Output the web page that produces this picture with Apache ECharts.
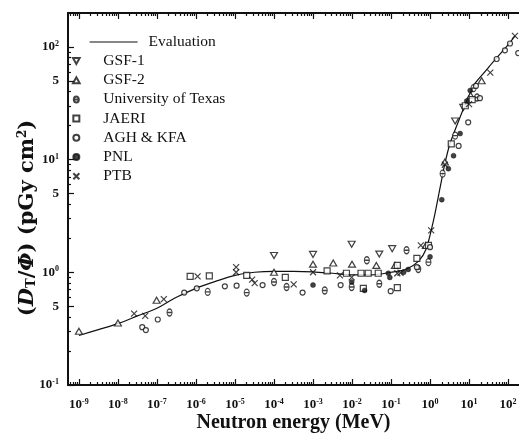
<!DOCTYPE html>
<html>
<head>
<meta charset="utf-8">
<script src="https://cdn.jsdelivr.net/npm/echarts@6/dist/echarts.min.js"></script>
<style>
  html, body { margin: 0; padding: 0; background: #fff; }
  #chart { width: 519px; height: 433px; }
</style>
</head>
<body>
<div id="chart"></div>
<script>
// Tick labels: energy decades (MeV) and dose-conversion ticks (pGy cm^2)
const energyDecades = [-9, -8, -7, -6, -5, -4, -3, -2, -1, 0, 1, 2];
const doseLabelTicks = [0.1, 0.5, 1, 5, 10, 50, 100];

// Evaluated kerma coefficient curve
const evalEnergy = [1e-9, 3.16e-9, 1e-8, 3.16e-8, 1e-7, 3.16e-7, 1e-6, 3.16e-6, 1e-5, 3.16e-5, 1e-4, 3.16e-4, 1e-3, 3.16e-3, 1e-2, 3.16e-2, 0.1, 0.25, 0.5, 0.79, 1.23, 1.82, 2.4, 3.24, 5.4, 8.7, 14.1, 23.4, 38, 62, 102, 151];
const evalDose   = [0.275, 0.31, 0.35, 0.41, 0.48, 0.60, 0.72, 0.83, 0.94, 1.0, 1.02, 1.02, 1.01, 0.98, 0.95, 0.95, 1.0, 1.07, 1.25, 1.6, 2.9, 5.7, 9.2, 13.8, 22, 33, 47, 58, 71, 86, 105, 125];

// Measurements
const gsf1Energy = [1e-4, 1e-3, 9.8e-3, 5e-2, 0.107, 4.4, 7.1];
const gsf1Dose   = [1.41, 1.44, 1.77, 1.45, 1.62, 22, 29];

const gsf2Energy = [1e-9, 1e-8, 9.8e-8, 1e-4, 1e-3, 3.3e-3, 1e-2, 4.2e-2, 0.126, 0.78, 2.4, 11, 21];
const gsf2Dose   = [0.30, 0.355, 0.565, 1.0, 1.18, 1.21, 1.18, 1.15, 1.15, 1.73, 9.5, 37, 50];

const texasEnergy = [2.1e-7, 2.0e-6, 2.0e-5, 1e-4, 2.1e-4, 2.0e-3, 9.8e-3, 2.4e-2, 5e-2, 0.25, 0.5, 0.91, 2.1, 4.4, 13, 16];
const texasDose   = [0.44, 0.67, 0.66, 0.82, 0.74, 0.69, 0.74, 1.28, 0.79, 1.57, 1.07, 1.23, 7.5, 16.3, 43, 35.5];

const jaeriEnergy = [7.1e-7, 2.2e-6, 2.0e-5, 1.95e-4, 2.3e-3, 7.2e-3, 1.7e-2, 1.95e-2, 2.6e-2, 4.7e-2, 0.145, 0.145, 0.46, 0.91, 3.5, 8, 12];
const jaeriDose   = [0.92, 0.93, 0.94, 0.90, 1.03, 0.98, 0.98, 0.72, 0.98, 0.98, 0.73, 1.15, 1.33, 1.73, 13.8, 30, 34];

const aghEnergy = [4.2e-8, 5.2e-8, 1.05e-7, 5e-7, 1.05e-6, 5.5e-6, 1.1e-5, 5.1e-5, 5.4e-4, 5.1e-3, 9.8e-2, 0.46, 1.0, 5.4, 9.5, 15, 19, 51, 83, 112, 182];
const aghDose   = [0.326, 0.307, 0.381, 0.66, 0.72, 0.75, 0.76, 0.77, 0.66, 0.77, 0.68, 1.11, 1.67, 13.2, 21.4, 45, 35, 78, 93, 107, 88];

const pnlEnergy = [1e-3, 9.8e-3, 2.1e-2, 8.5e-2, 9.3e-2, 0.21, 0.275, 1.0, 2.0, 2.95, 4.0, 5.9, 8.7, 10.7];
const pnlDose   = [0.77, 0.82, 0.69, 0.98, 0.90, 1.0, 1.06, 1.37, 4.4, 8.3, 10.8, 17, 33, 41];

const ptbEnergy = [2.6e-8, 5e-8, 1.5e-7, 1.1e-6, 1.07e-5, 1.07e-5, 2.75e-5, 3.2e-5, 3.2e-4, 1e-3, 4.9e-3, 9.8e-3, 0.145, 0.175, 0.58, 1.07, 2.4, 10, 35, 150];
const ptbDose   = [0.43, 0.41, 0.577, 0.92, 1.11, 1.0, 0.86, 0.80, 0.78, 1.0, 0.94, 0.90, 0.98, 0.99, 1.73, 2.35, 9.0, 31, 59, 125];

const zip = (xs, ys) => xs.map((x, i) => [x, ys[i]]);

const X_MIN = Math.pow(10, -9.28), X_MAX = Math.pow(10, 2.28);
const Y_MIN = 0.1, Y_MAX = Math.pow(10, 2.3);

const SERIF = 'Liberation Serif';
const WIDE_SERIF = 'DejaVu Serif';
const INK = '#111';

// Axis tick positions
const majorX = energyDecades.map(e => Math.pow(10, e));
const minorX = [];
for (let e = -10; e <= 2; e++) for (let k = 2; k <= 9; k++) {
  const v = k * Math.pow(10, e);
  if (v > X_MIN && v < X_MAX) minorX.push(v);
}
const majorY = doseLabelTicks.slice();
const minorY = [];
for (let e = -1; e <= 2; e++) for (let k = 2; k <= 9; k++) {
  if (k === 5) continue;
  const v = k * Math.pow(10, e);
  if (v > Y_MIN && v < Y_MAX) minorY.push(v);
}

const labelRich = {
  b: { fontFamily: SERIF, fontWeight: 'bold', fontSize: 13, color: INK, lineHeight: 14 },
  s: { fontFamily: SERIF, fontWeight: 'bold', fontSize: 8, color: INK, verticalAlign: 'top', lineHeight: 9 }
};
const powLabel = v => {
  const e = Math.round(Math.log10(v));
  const m = v / Math.pow(10, e);
  if (Math.abs(m - 1) < 1e-6) return '{b|10}{s|' + e + '}';
  return '{b|' + Math.round(v / Math.pow(10, Math.floor(Math.log10(v) + 1e-9))) + '}';
};

function xAxisDef(position, ticks, len, withLine, withLabels) {
  return {
    type: 'log', logBase: 10, position, min: X_MIN, max: X_MAX,
    axisLine: { show: withLine, onZero: false, lineStyle: { color: INK, width: 2 } },
    axisTick: { show: true, inside: true, length: len, customValues: ticks, lineStyle: { color: INK, width: 1.2 } },
    axisLabel: withLabels ? { show: true, customValues: majorX, margin: 13, formatter: powLabel, rich: labelRich } : { show: false },
    splitLine: { show: false }, minorTick: { show: false }
  };
}
function yAxisDef(ticks, len, withLine, withLabels) {
  return {
    type: 'log', logBase: 10, position: 'left', min: Y_MIN, max: Y_MAX,
    axisLine: { show: withLine, onZero: false, lineStyle: { color: INK, width: 2 } },
    axisTick: { show: true, inside: true, length: len, customValues: ticks, lineStyle: { color: INK, width: 1.2 } },
    axisLabel: withLabels ? { show: true, customValues: majorY, margin: 9, formatter: powLabel, rich: labelRich } : { show: false },
    splitLine: { show: false }, minorTick: { show: false }
  };
}

const xMain = xAxisDef('bottom', majorX, 6, true, true);
xMain.name = 'Neutron energy (MeV)';
xMain.nameLocation = 'middle';
xMain.nameGap = 28;
xMain.nameMoveOverlap = false;
xMain.nameTextStyle = { fontFamily: SERIF, fontWeight: 'bold', fontSize: 20, color: INK };

const yMain = yAxisDef(majorY, 6, true, true);
yMain.name = '({i|D}{sub|T}/{i|Φ}) (pGy cm{sup|2})';
yMain.nameLocation = 'middle';
yMain.nameGap = 30;
yMain.nameMoveOverlap = false;
yMain.nameTextStyle = {
  fontFamily: WIDE_SERIF, fontWeight: 'bold', fontSize: 21, color: INK, padding: [0, 38, 0, 0],
  rich: {
    i: { fontFamily: WIDE_SERIF, fontWeight: 'bold', fontStyle: 'italic', fontSize: 21, color: INK },
    sub: { fontFamily: WIDE_SERIF, fontWeight: 'bold', fontSize: 13, color: INK, verticalAlign: 'bottom' },
    sup: { fontFamily: WIDE_SERIF, fontWeight: 'bold', fontSize: 12, color: INK, verticalAlign: 'top' }
  }
};

const openStyle = { color: '#fff', borderColor: INK, borderWidth: 1.2 };
const SYM_DOWN = 'path://M0,0L10,0L5,9Z';
const SYM_UP = 'path://M5,0L10,9L0,9Z';
const SYM_SQUARE = 'path://M0,0L10,0L10,10L0,10Z';
const SYM_THETA = 'path://M5,0C2.2,0 0,2.7 0,6C0,9.3 2.2,12 5,12C7.8,12 10,9.3 10,6C10,2.7 7.8,0 5,0ZM0,6L10,6';
const SYM_CROSS = 'path://M0,0L10,10M10,0L0,10';

function scatter(name, xs, ys, symbol, size, style) {
  return { name, type: 'scatter', data: zip(xs, ys), symbol, symbolSize: size, itemStyle: style, z: 3, silent: true };
}

const chart = echarts.init(document.getElementById('chart'), null, { renderer: 'canvas' });
chart.setOption({
  animation: false,
  backgroundColor: '#fff',
  grid: { left: 68, right: 0, top: 13, bottom: 48, containLabel: false, outerBoundsMode: 'none' },
  xAxis: [
    xMain,
    xAxisDef('bottom', minorX, 3, false, false),
    xAxisDef('top', majorX, 6, true, false),
    xAxisDef('top', minorX, 3, false, false)
  ],
  yAxis: [
    yMain,
    yAxisDef(minorY, 3, false, false)
  ],
  legend: [
    {
      data: ['Evaluation'], left: 89, top: 34, orient: 'vertical', padding: 0,
      itemWidth: 48, itemHeight: 10, selectedMode: false,
      itemStyle: { opacity: 0 },
      lineStyle: { color: INK, width: 1.2 },
      textStyle: { fontFamily: SERIF, fontSize: 15.5, color: INK, padding: [0, 0, 0, 6] }
    },
    {
      data: ['GSF-1', 'GSF-2', 'University of Texas', 'JAERI', 'AGH & KFA', 'PNL', 'PTB'],
      left: 72, top: 53, orient: 'vertical', itemGap: 3.2, padding: 0,
      itemWidth: 44, itemHeight: 6, selectedMode: false, symbolKeepAspect: true,
      textStyle: { fontFamily: SERIF, fontSize: 15.5, color: INK }
    }
  ],
  series: [
    {
      name: 'Evaluation', type: 'line', data: zip(evalEnergy, evalDose),
      symbol: 'none', smooth: 0.3, lineStyle: { color: INK, width: 1.2 }, itemStyle: { color: INK }, z: 2, silent: true
    },
    scatter('GSF-1', gsf1Energy, gsf1Dose, SYM_DOWN, [7, 6], openStyle),
    scatter('GSF-2', gsf2Energy, gsf2Dose, SYM_UP, [7, 6], openStyle),
    scatter('University of Texas', texasEnergy, texasDose, SYM_THETA, [5, 7], openStyle),
    scatter('JAERI', jaeriEnergy, jaeriDose, SYM_SQUARE, 6, openStyle),
    scatter('AGH & KFA', aghEnergy, aghDose, 'circle', 5, openStyle),
    scatter('PNL', pnlEnergy, pnlDose, 'circle', 5, { color: INK, borderColor: INK, borderWidth: 0.5 }),
    scatter('PTB', ptbEnergy, ptbDose, SYM_CROSS, 6, { color: INK, borderColor: INK, borderWidth: 1.2 })
  ]
});
</script>
</body>
</html>
